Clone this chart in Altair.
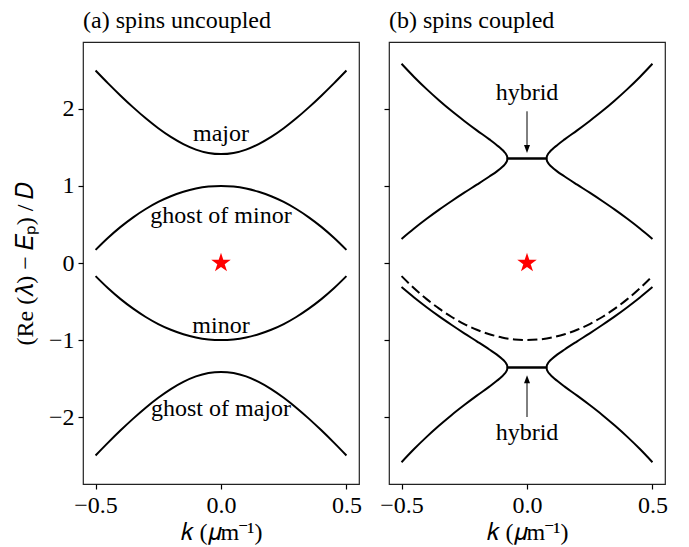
import altair as alt
import pandas as pd

# ---- panel (a): uncoupled branches ----
k_a = [-0.50, -0.45, -0.40, -0.35, -0.30, -0.25, -0.20, -0.15, -0.10, -0.05,
       0.00, 0.05, 0.10, 0.15, 0.20, 0.25, 0.30, 0.35, 0.40, 0.45, 0.50]
major = [2.500, 2.333, 2.173, 2.021, 1.879, 1.750, 1.637, 1.544, 1.473, 1.429,
         1.414, 1.429, 1.473, 1.544, 1.637, 1.750, 1.879, 2.021, 2.173, 2.333, 2.500]
ghost_of_minor = [0.170, 0.328, 0.469, 0.593, 0.701, 0.793, 0.867, 0.925, 0.967, 0.992,
                  1.000, 0.992, 0.967, 0.925, 0.867, 0.793, 0.701, 0.593, 0.469, 0.328, 0.170]
minor = [-0.170, -0.328, -0.469, -0.593, -0.701, -0.793, -0.867, -0.925, -0.967, -0.992,
         -1.000, -0.992, -0.967, -0.925, -0.867, -0.793, -0.701, -0.593, -0.469, -0.328, -0.170]
ghost_of_major = [-2.500, -2.333, -2.173, -2.021, -1.879, -1.750, -1.637, -1.544, -1.473, -1.429,
                  -1.414, -1.429, -1.473, -1.544, -1.637, -1.750, -1.879, -2.021, -2.173, -2.333, -2.500]

# ---- panel (b): coupled branches (real parts merge on the flat "hybrid" segment) ----
k_b = [-0.500, -0.450, -0.400, -0.350, -0.300, -0.250, -0.200, -0.150, -0.120, -0.100,
       -0.090, -0.082, -0.079, -0.078, 0.000, 0.078, 0.079, 0.082, 0.090, 0.100,
       0.120, 0.150, 0.200, 0.250, 0.300, 0.350, 0.400, 0.450, 0.500]
upper_outer = [2.587, 2.416, 2.258, 2.111, 1.973, 1.845, 1.723, 1.605, 1.530, 1.475,
               1.441, 1.405, 1.380, 1.357, 1.357, 1.357, 1.380, 1.405, 1.441, 1.475,
               1.530, 1.605, 1.723, 1.845, 1.973, 2.111, 2.258, 2.416, 2.587]
upper_inner = [0.313, 0.448, 0.574, 0.693, 0.805, 0.913, 1.017, 1.123, 1.190, 1.243,
               1.275, 1.311, 1.334, 1.357, 1.357, 1.357, 1.334, 1.311, 1.275, 1.243,
               1.190, 1.123, 1.017, 0.913, 0.805, 0.693, 0.574, 0.448, 0.313]
lower_inner = [-0.313, -0.448, -0.574, -0.693, -0.805, -0.913, -1.017, -1.123, -1.190, -1.243,
               -1.275, -1.311, -1.334, -1.357, -1.357, -1.357, -1.334, -1.311, -1.275, -1.243,
               -1.190, -1.123, -1.017, -0.913, -0.805, -0.693, -0.574, -0.448, -0.313]
lower_outer = [-2.587, -2.416, -2.258, -2.111, -1.973, -1.845, -1.723, -1.605, -1.530, -1.475,
               -1.441, -1.405, -1.380, -1.357, -1.357, -1.357, -1.380, -1.405, -1.441, -1.475,
               -1.530, -1.605, -1.723, -1.845, -1.973, -2.111, -2.258, -2.416, -2.587]

# branch labels in panel (a)
label_text = ["major", "ghost of minor", "minor", "ghost of major"]
label_k = [0.0, 0.0, 0.0, 0.0]
label_y = [1.59, 0.525, -0.906, -1.985]

# "hybrid" annotations in panel (b): text baseline, arrow tail, arrow tip
hybrid_text_y = [2.12, -2.30]
arrow_tail = [1.97, -2.00]
arrow_tip = [1.43, -1.458]

# exceptional point marker
star_k = [0.0]
star_y = [0.0]

FONT = "Liberation Serif"
FS = 24
W, H = 276, 442
XDOM = [-0.55, 0.55]
YDOM = [-2.87, 2.87]
PX_PER_UNIT = H / (YDOM[1] - YDOM[0])

# marker outlines in symbol units (-1..1)
STAR = ("M0,-1L0.225,-0.309L0.951,-0.309L0.363,0.118L0.588,0.809L0,0.382"
        "L-0.588,0.809L-0.363,0.118L-0.951,-0.309L-0.225,-0.309Z")
HEAD_DOWN = "M0,1L-0.75,-1L0.75,-1Z"
HEAD_UP = "M0,-1L-0.75,1L0.75,1Z"
HEAD_SIZE = 64  # half-length sqrt(64)/2 = 4 px


def long_frame(k, series):
    rows = []
    for name, vals in series.items():
        for i, (kk, v) in enumerate(zip(k, vals)):
            rows.append({"k": kk, "v": v, "branch": name, "i": i})
    return pd.DataFrame(rows)


def x_enc():
    return alt.X(
        "k:Q",
        scale=alt.Scale(domain=XDOM, nice=False, zero=False),
        axis=alt.Axis(values=[-0.5, 0.0, 0.5], format=".1f", grid=False,
                      title="𝑘 (𝜇m⁻¹)", titlePadding=3),
    )


def y_enc(labels=True):
    if labels:
        axis = alt.Axis(values=[-2, -1, 0, 1, 2], format="d", grid=False,
                        title="(Re (𝜆) − 𝐸ₚ) / 𝐷", titlePadding=11)
    else:
        axis = alt.Axis(values=[-2, -1, 0, 1, 2], format="d", grid=False,
                        labels=False, title=None)
    return alt.Y("v:Q", scale=alt.Scale(domain=YDOM, nice=False, zero=False), axis=axis)


def star_layer():
    return alt.Chart(pd.DataFrame({"k": star_k, "v": star_y})).mark_point(
        shape=STAR, filled=True, color="#ff0000", size=420, opacity=1, strokeWidth=0
    ).encode(x="k:Q", y="v:Q")


# ---------------- panel (a) ----------------
df_a = long_frame(k_a, {"major": major, "ghost of minor": ghost_of_minor,
                        "minor": minor, "ghost of major": ghost_of_major})
lines_a = alt.Chart(df_a).mark_line(color="black", strokeWidth=2,
                                    interpolate="monotone").encode(
    x=x_enc(), y=y_enc(True), detail="branch:N", order="i:Q")

labels_a = alt.Chart(pd.DataFrame({"k": label_k, "v": label_y, "t": label_text})).mark_text(
    font=FONT, fontSize=FS, baseline="alphabetic", align="center", color="black"
).encode(x="k:Q", y="v:Q", text="t:N")

panel_a = alt.layer(lines_a, labels_a, star_layer()).properties(
    width=W, height=H,
    title=alt.TitleParams("(a) spins uncoupled", anchor="start", frame="group",
                          font=FONT, fontSize=FS, fontWeight="normal", offset=9),
)

# ---------------- panel (b) ----------------
df_b = long_frame(k_b, {"upper outer": upper_outer, "upper inner": upper_inner,
                        "lower inner": lower_inner, "lower outer": lower_outer})
lines_b = alt.Chart(df_b).mark_line(color="black", strokeWidth=2,
                                    interpolate="monotone").encode(
    x=x_enc(), y=y_enc(False), detail="branch:N", order="i:Q")

df_dash = long_frame(k_a, {"minor": minor})
dashed_b = alt.Chart(df_dash).mark_line(color="black", strokeWidth=2, strokeDash=[10, 4.5],
                                        interpolate="monotone").encode(
    x="k:Q", y="v:Q", order="i:Q")

head_offset = (HEAD_SIZE ** 0.5 / 2) / PX_PER_UNIT
ann = pd.DataFrame({"k": [0.0, 0.0], "t": ["hybrid", "hybrid"], "ty": hybrid_text_y,
                    "tail": arrow_tail,
                    "hc": [arrow_tip[0] + head_offset, arrow_tip[1] - head_offset]})
hyb_text = alt.Chart(ann).mark_text(
    font=FONT, fontSize=FS, baseline="alphabetic", align="center", color="black"
).encode(x="k:Q", y="ty:Q", text="t:N")
hyb_shaft = alt.Chart(ann).mark_rule(color="black", strokeWidth=1).encode(
    x="k:Q", y="tail:Q", y2="hc:Q")
hyb_head_dn = alt.Chart(ann.iloc[[0]]).mark_point(
    shape=HEAD_DOWN, filled=True, color="black", size=HEAD_SIZE, opacity=1, strokeWidth=0
).encode(x="k:Q", y="hc:Q")
hyb_head_up = alt.Chart(ann.iloc[[1]]).mark_point(
    shape=HEAD_UP, filled=True, color="black", size=HEAD_SIZE, opacity=1, strokeWidth=0
).encode(x="k:Q", y="hc:Q")

panel_b = alt.layer(lines_b, dashed_b, hyb_shaft, hyb_head_dn, hyb_head_up, hyb_text,
                    star_layer()).properties(
    width=W, height=H,
    title=alt.TitleParams("(b) spins coupled", anchor="start", frame="group",
                          font=FONT, fontSize=FS, fontWeight="normal", offset=9),
)

chart = alt.hconcat(panel_a, panel_b, spacing=16).properties(
    padding={"left": 12, "top": 8, "right": 5, "bottom": 2},
    background="white",
).configure_view(
    stroke="#222222", strokeWidth=1.2
).configure_axis(
    domain=False, tickColor="black", tickSize=5, tickWidth=1.2,
    labelFont=FONT, labelFontSize=FS, labelColor="black", labelPadding=4,
    titleFont=FONT, titleFontSize=FS, titleFontWeight="normal", titleColor="black",
)

chart.save("out.html", embed_options={"renderer": "svg", "actions": False})
